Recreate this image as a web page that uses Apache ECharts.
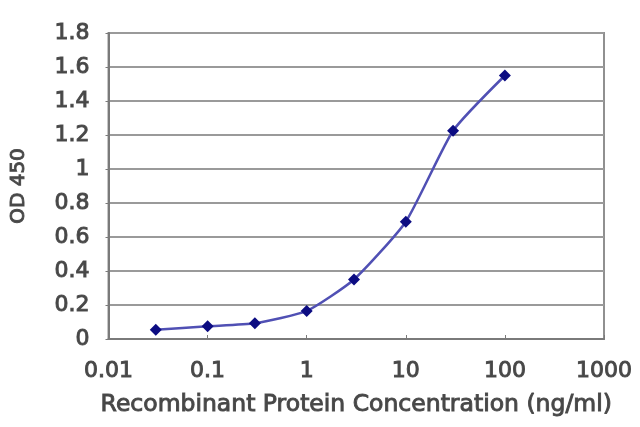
<!DOCTYPE html>
<html>
<head>
<meta charset="utf-8">
<script src="https://cdn.jsdelivr.net/npm/echarts@6/dist/echarts.min.js"></script>
<style>
html,body{margin:0;padding:0;background:#fff;}
#c{width:640px;height:427px;}
</style>
</head>
<body>
<div id="c"></div>
<script>
const concentrations = [0.03, 0.1, 0.3, 1, 3, 10, 30, 100];
const od450 = [0.055, 0.075, 0.092, 0.165, 0.35, 0.69, 1.225, 1.55];
const xTitle = 'Recombinant Protein Concentration (ng/ml)';
const yTitle = 'OD 450';

const points = concentrations.map((c, i) => [c, od450[i]]);
const chart = echarts.init(document.getElementById('c'));
const font = 'DejaVu Sans';
const txt = {fontFamily: font, fontSize: 22, color: '#474747', textBorderColor: '#555555', textBorderWidth: 1};
chart.setOption({
  animation: false,
  backgroundColor: '#fff',
  grid: {left: 107, right: 36, top: 33, bottom: 88, show: true, borderColor: '#909090', borderWidth: 2},
  xAxis: {
    type: 'log', logBase: 10, min: 0.01, max: 1000,
    name: xTitle, nameLocation: 'middle', nameGap: 54,
    nameTextStyle: Object.assign({}, txt, {fontSize: 23.5}),
    axisLine: {lineStyle: {color: '#7a7a7a', width: 2}},
    axisTick: {show: true, inside: true, length: 4, lineStyle: {color: '#7a7a7a'}},
    minorTick: {show: false},
    splitLine: {show: false},
    axisLabel: Object.assign({margin: 21, formatter: v => String(v)}, txt)
  },
  yAxis: {
    type: 'value', min: 0, max: 1.8, interval: 0.2,
    name: yTitle, nameLocation: 'middle', nameGap: 80, nameRotate: 90,
    nameTextStyle: Object.assign({}, txt, {fontSize: 20}),
    axisLine: {show: true, lineStyle: {color: '#7a7a7a', width: 2}},
    axisTick: {show: true, length: 3, lineStyle: {color: '#7a7a7a'}},
    splitLine: {show: true, lineStyle: {color: '#9a9a9a', width: 2}},
    axisLabel: Object.assign({margin: 19, formatter: v => String(Math.round(v * 10) / 10)}, txt)
  },
  series: [{
    type: 'line', data: points, smooth: 0.18,
    symbol: 'diamond', symbolSize: 12,
    lineStyle: {color: '#5050b4', width: 2.5},
    itemStyle: {color: '#0c0c82'}
  }]
});
</script>
</body>
</html>
